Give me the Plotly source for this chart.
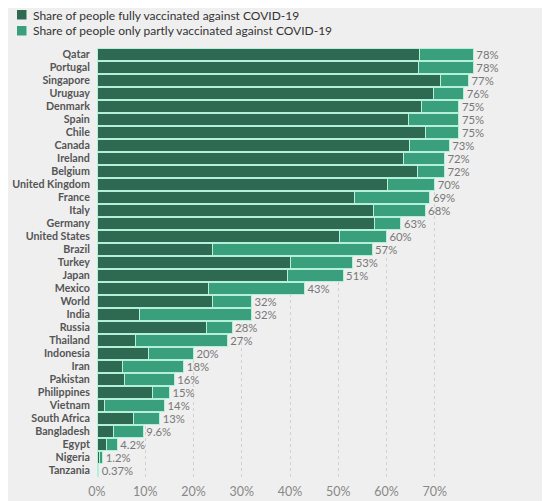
import plotly.graph_objects as go

countries = ["Qatar", "Portugal", "Singapore", "Uruguay", "Denmark", "Spain", "Chile",
             "Canada", "Ireland", "Belgium", "United Kingdom", "France", "Italy", "Germany",
             "United States", "Brazil", "Turkey", "Japan", "Mexico", "World", "India",
             "Russia", "Thailand", "Indonesia", "Iran", "Pakistan", "Philippines", "Vietnam",
             "South Africa", "Bangladesh", "Egypt", "Nigeria", "Tanzania"]

# share with at least one dose (total, as labelled)
total = [78, 78, 77, 76, 75, 75, 75, 73, 72, 72, 70, 69, 68, 63, 60, 57, 53, 51, 43,
         32, 32, 28, 27, 20, 18, 16, 15, 14, 13, 9.6, 4.2, 1.2, 0.37]
total_labels = ["78%", "78%", "77%", "76%", "75%", "75%", "75%", "73%", "72%", "72%",
                "70%", "69%", "68%", "63%", "60%", "57%", "53%", "51%", "43%", "32%",
                "32%", "28%", "27%", "20%", "18%", "16%", "15%", "14%", "13%", "9.6%",
                "4.2%", "1.2%", "0.37%"]

# fully vaccinated
fully = [66.9, 66.6, 71.1, 69.8, 67.3, 64.5, 68.1, 64.7, 63.5, 66.4, 60.2, 53.4, 57.4,
         57.6, 50.3, 24.0, 40.2, 39.4, 23.1, 23.9, 8.9, 22.7, 7.9, 10.7, 5.2, 5.7, 11.6,
         1.5, 7.5, 3.5, 2.0, 0.6, 0.3]

partly = [round(t - f, 2) for t, f in zip(total, fully)]

x_ticks = [0, 10, 20, 30, 40, 50, 60, 70]
x_tick_labels = ["0%", "10%", "20%", "30%", "40%", "50%", "60%", "70%"]

legend_names = ["Share of people fully vaccinated against COVID-19",
                "Share of people only partly vaccinated against COVID-19"]

dark = "#2e6a51"
light = "#3a9f7d"
outline = "#b4f0da"

# page has an 8px body margin, so the figure is a bit smaller than the window
W, H = 542, 493
ML, MR, MT, MB = 89, 67, 40, 24
PW, PH = W - ML - MR, H - MT - MB


def px_x(p):
    return (p - ML) / PW


def px_y(p):
    return 1 - (p - MT) / PH


fig = go.Figure()
fig.add_trace(go.Bar(
    y=countries, x=fully, orientation="h", name=legend_names[0],
    marker=dict(color=dark, line=dict(color=outline, width=1)),
))
fig.add_trace(go.Bar(
    y=countries, x=partly, orientation="h", name=legend_names[1],
    marker=dict(color=light, line=dict(color=outline, width=1)),
    text=total_labels, textposition="outside", cliponaxis=False, constraintext="none",
    textfont=dict(family="Lato", size=11.3, color="#777777"),
))

# legend drawn by hand (swatch close to the text like in the original)
for i, (name, col) in enumerate(zip(legend_names, [dark, light])):
    top = 2 + i * 16
    fig.add_shape(type="rect", xref="paper", yref="paper",
                  x0=px_x(9), x1=px_x(18.5), y0=px_y(top), y1=px_y(top + 9.5),
                  fillcolor=col, line_width=0)
    fig.add_annotation(text=name, xref="paper", yref="paper",
                       x=px_x(23), y=px_y(top + 5), xanchor="left", yanchor="middle",
                       showarrow=False, font=dict(family="Lato", size=12, color="#333333"))

fig.update_layout(
    barmode="stack",
    bargap=0.1,
    width=W, height=H,
    margin=dict(l=ML, r=MR, t=MT, b=MB, autoexpand=False),
    paper_bgcolor="#efefef",
    plot_bgcolor="#efefef",
    font=dict(family="Lato", color="#555555"),
    showlegend=False,
    xaxis=dict(
        range=[0, 80], tickmode="array", tickvals=x_ticks, ticktext=x_tick_labels,
        showgrid=True, gridcolor="#d0d0d0", griddash="dot",
        zeroline=False, showline=False, automargin=False,
        ticks="outside", ticklen=3, tickcolor="rgba(0,0,0,0)",
        tickfont=dict(family="Lato", size=12.5, color="#888888"),
    ),
    yaxis=dict(
        autorange="reversed", showgrid=False, zeroline=False, automargin=False,
        tickmode="array", tickvals=countries,
        ticks="outside", ticklen=4, tickcolor="rgba(0,0,0,0)",
        tickfont=dict(family="Lato", size=10.7, color="#555555", weight=700),
    ),
)

fig.write_html("out.html")
